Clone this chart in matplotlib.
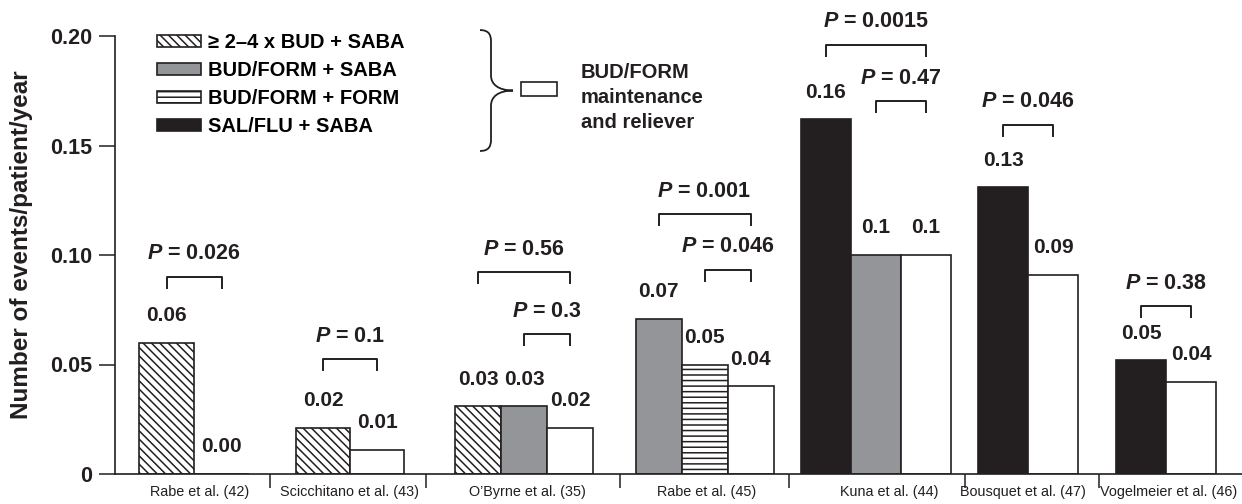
import numpy as np
import matplotlib.pyplot as plt
from matplotlib.patches import Rectangle, PathPatch
from matplotlib.path import Path

plt.rcParams['font.family'] = ['Liberation Sans', 'DejaVu Sans']
plt.rcParams['mathtext.fontset'] = 'custom'
plt.rcParams['mathtext.it'] = 'Liberation Sans:italic:bold'
plt.rcParams['mathtext.rm'] = 'Liberation Sans:bold'
plt.rcParams['hatch.linewidth'] = 1.1

# ---- data ----
studies = ["Rabe et al. (42)", "Scicchitano et al. (43)", "O\u2019Byrne et al. (35)",
           "Rabe et al. (45)", "Kuna et al. (44)", "Bousquet et al. (47)",
           "Vogelmeier et al. (46)"]
arms = [["bud", "smart"], ["bud", "smart"], ["bud", "budform", "smart"],
        ["budform", "form", "smart"], ["salflu", "budform", "smart"],
        ["salflu", "smart"], ["salflu", "smart"]]
rates = [[0.060, 0.0], [0.021, 0.011], [0.031, 0.031, 0.021],
         [0.071, 0.050, 0.040], [0.162, 0.100, 0.100],
         [0.131, 0.091], [0.052, 0.042]]
rate_labels = [["0.06", "0.00"], ["0.02", "0.01"], ["0.03", "0.03", "0.02"],
               ["0.07", "0.05", "0.04"], ["0.16", "0.1", "0.1"],
               ["0.13", "0.09"], ["0.05", "0.04"]]

# P-value comparisons: study index, bar a, bar b, p text
p_study = [0, 1, 2, 2, 3, 3, 4, 4, 5, 6]
p_from = [0, 0, 0, 1, 0, 1, 0, 1, 0, 0]
p_to = [1, 1, 2, 2, 2, 2, 2, 2, 1, 1]
p_text = ["0.026", "0.1", "0.56", "0.3", "0.001", "0.046", "0.0015", "0.47",
          "0.046", "0.38"]

legend_names = {"bud": "\u2265 2\u20134 x BUD + SABA", "budform": "BUD/FORM + SABA",
                "form": "BUD/FORM + FORM", "salflu": "SAL/FLU + SABA"}

# ---- layout ----
group_x = [194, 350, 524, 704.5, 876, 1028, 1166]
label_x = [200, 349, 527, 707, 889, 1023, 1169]
bar_w = [55, 54, 46, 46, 50, 50, 50]
separators = [270, 426, 620, 789, 965, 1099]
bracket_y = [0.090, 0.0525, 0.0922, 0.0639, 0.1187, 0.0932, 0.1959, 0.1703,
             0.1594, 0.0767]

ink = "#231f20"
styles = {
    "bud": dict(facecolor="white", hatch="\\\\\\\\"),
    "budform": dict(facecolor="#939598"),
    "form": dict(facecolor="white", hatch="---"),
    "salflu": dict(facecolor=ink),
    "smart": dict(facecolor="white"),
}

fig = plt.figure(figsize=(12.42, 5.04), dpi=100)
ax = fig.add_axes([115 / 1242, 30 / 504, 1 - 115 / 1242, 438 / 504])

handles = {}
centers = []
for i, (arm, vals, labs) in enumerate(zip(arms, rates, rate_labels)):
    n = len(vals)
    xs = group_x[i] + (np.arange(n) - (n - 1) / 2) * bar_w[i]
    centers.append(xs)
    for x, v, a, lab in zip(xs, vals, arm, labs):
        b = ax.bar(x, v, width=bar_w[i], edgecolor=ink, linewidth=1.2, **styles[a])
        handles.setdefault(a, b)
        ax.annotate(lab, (x, v), xytext=(0, 19.5), textcoords="offset points",
                    ha="center", va="center", fontsize=15, fontweight="bold",
                    color=ink)

for k in range(len(p_text)):
    xs = centers[p_study[k]]
    x1, x2 = xs[p_from[k]], xs[p_to[k]]
    y = bracket_y[k]
    ax.plot([x1, x1, x2, x2], [y - 0.005, y, y, y - 0.005], color=ink, lw=1.4,
            clip_on=False)
    ax.text((x1 + x2) / 2, y + 0.0105, r"$P$ = " + p_text[k], ha="center",
            va="center", fontsize=15.5, fontweight="bold", color=ink)

# legend
keys = ["bud", "budform", "form", "salflu"]
ax.legend([handles[k] for k in keys], [legend_names[k] for k in keys],
          loc="upper left", bbox_to_anchor=(157 / 1242, 1 - 33 / 504),
          bbox_transform=fig.transFigure, frameon=False,
          prop=dict(weight="bold", size=14.5), handlelength=2.2,
          handleheight=0.6, handletextpad=0.35, labelspacing=0.45, borderpad=0,
          borderaxespad=0)

# brace + maintenance and reliever key
verts = [(480, 0.2027), (488, 0.2027), (491, 0.2010), (491, 0.1975),
         (491, 0.1820),
         (491, 0.1780), (498, 0.1752), (513, 0.1751),
         (498, 0.1750), (491, 0.1722), (491, 0.1682),
         (491, 0.1527),
         (491, 0.1492), (488, 0.1475), (480, 0.1475)]
codes = [Path.MOVETO, Path.CURVE4, Path.CURVE4, Path.CURVE4, Path.LINETO,
         Path.CURVE4, Path.CURVE4, Path.CURVE4, Path.CURVE4, Path.CURVE4,
         Path.CURVE4, Path.LINETO, Path.CURVE4, Path.CURVE4, Path.CURVE4]
ax.add_patch(PathPatch(Path(verts, codes), facecolor="none", edgecolor=ink,
                       lw=1.3, clip_on=False))
ax.add_patch(Rectangle((521, 0.1726), 36, 0.0064, facecolor="white",
                       edgecolor=ink, lw=1.2, clip_on=False))
ax.text(581, 0.1720, "BUD/FORM\nmaintenance\nand reliever", ha="left",
        va="center", fontsize=14.5, fontweight="bold", color=ink,
        linespacing=1.4)

# axes styling
ax.set_xlim(115, 1242)
ax.set_ylim(0, 0.20)
ax.set_yticks([0, 0.05, 0.10, 0.15, 0.20])
ax.set_yticklabels(["0", "0.05", "0.10", "0.15", "0.20"])
ax.set_xticks(separators)
ax.set_xticklabels([])
ax.set_xticks(label_x, studies, minor=True)
ax.tick_params(axis="x", which="major", direction="out", length=10, width=1.1,
               color=ink)
ax.tick_params(axis="x", which="minor", length=0, pad=8, labelsize=10.4,
               labelcolor=ink)
ax.tick_params(axis="y", direction="out", length=11.5, width=1.1, pad=5,
               labelsize=15.5, color=ink, labelcolor=ink)
for t in ax.get_yticklabels():
    t.set_fontweight("bold")
for s in ["top", "right"]:
    ax.spines[s].set_visible(False)
for s in ["left", "bottom"]:
    ax.spines[s].set_linewidth(1.2)
    ax.spines[s].set_color(ink)
ax.set_ylabel("Number of events/patient/year", fontsize=17.5, fontweight="bold",
              color=ink)
ax.yaxis.set_label_coords(-0.073, 0.523)

fig.savefig("out.png", dpi=100)
